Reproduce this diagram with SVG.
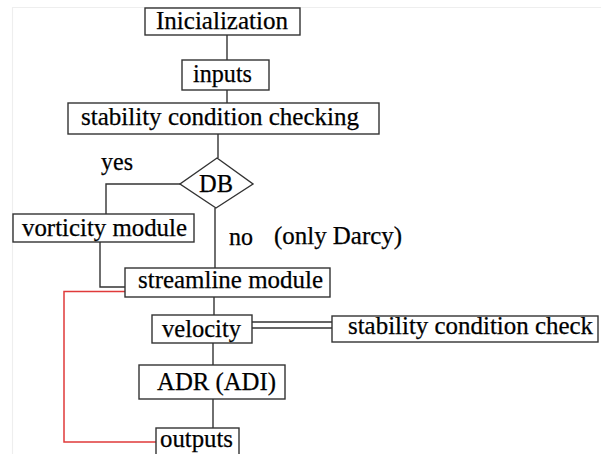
<svg xmlns="http://www.w3.org/2000/svg" width="601" height="454" viewBox="0 0 601 454">
<style>
.box{fill:#fff;stroke:#333;stroke-width:1.4}
.ln{fill:none;stroke:#333;stroke-width:1.4}
.red{fill:none;stroke:#e03a3a;stroke-width:1.5}
text{font-family:'Liberation Serif','Times New Roman',serif;font-size:25px;fill:#000;stroke:#000;stroke-width:0.25}
</style>
<rect width="601" height="454" fill="#fff"/>
<path d="M12.5 454 V7.5 H601" fill="none" stroke="#eeeeee" stroke-width="1.2"/>
<g id="connectors">
<path class="ln" d="M227 35 V60"/>
<path class="ln" d="M227 90 V103"/>
<path class="ln" d="M218 134 V158"/>
<path class="ln" d="M180 184 H106 V214"/>
<path class="ln" d="M215 208 V268"/>
<path class="ln" d="M100 242 V287 H125"/>
<path class="ln" d="M214 297 V315"/>
<path class="ln" d="M213 343 V365"/>
<path class="ln" d="M213 399 V428"/>
<path class="ln" d="M252 322 H334 M252 328 H334"/>
<path class="red" d="M125 291.5 H64 V442 H157"/>
<text x="101" y="170" textLength="32" lengthAdjust="spacingAndGlyphs">yes</text>
<text x="229" y="245" textLength="24" lengthAdjust="spacingAndGlyphs">no</text>
<text x="274" y="244" textLength="128" lengthAdjust="spacingAndGlyphs">(only Darcy)</text>
</g>
<g id="init">
<rect class="box" x="145" y="8" width="155" height="27"/>
<text x="156" y="29" textLength="132" lengthAdjust="spacingAndGlyphs">Inicialization</text>
</g>
<g id="inputs">
<rect class="box" x="182" y="60" width="87" height="30"/>
<text x="193" y="82" textLength="59" lengthAdjust="spacingAndGlyphs">inputs</text>
</g>
<g id="stability">
<rect class="box" x="68" y="103" width="311" height="31"/>
<text x="81" y="125" textLength="278" lengthAdjust="spacingAndGlyphs">stability condition checking</text>
</g>
<g id="db">
<polygon class="box" points="217,158 253,184 216,208 180,184"/>
<text x="199" y="192" textLength="34" lengthAdjust="spacingAndGlyphs">DB</text>
</g>
<g id="vorticity">
<rect class="box" x="13" y="214" width="181" height="28"/>
<text x="22" y="236" textLength="165" lengthAdjust="spacingAndGlyphs">vorticity module</text>
</g>
<g id="streamline">
<rect class="box" x="125" y="268" width="205" height="29"/>
<text x="138" y="288" textLength="185" lengthAdjust="spacingAndGlyphs">streamline module</text>
</g>
<g id="velocity">
<rect class="box" x="152" y="315" width="100" height="28"/>
<text x="162" y="337" textLength="79" lengthAdjust="spacingAndGlyphs">velocity</text>
</g>
<g id="check">
<rect class="box" x="332" y="316" width="266" height="26"/>
<text x="348" y="334" textLength="245" lengthAdjust="spacingAndGlyphs">stability condition check</text>
</g>
<g id="adr">
<rect class="box" x="139" y="365" width="146" height="34"/>
<text x="157" y="390" textLength="119" lengthAdjust="spacingAndGlyphs">ADR (ADI)</text>
</g>
<g id="outputs">
<rect class="box" x="156" y="428" width="83" height="30"/>
<text x="160" y="447" textLength="73" lengthAdjust="spacingAndGlyphs">outputs</text>
</g>
</svg>
